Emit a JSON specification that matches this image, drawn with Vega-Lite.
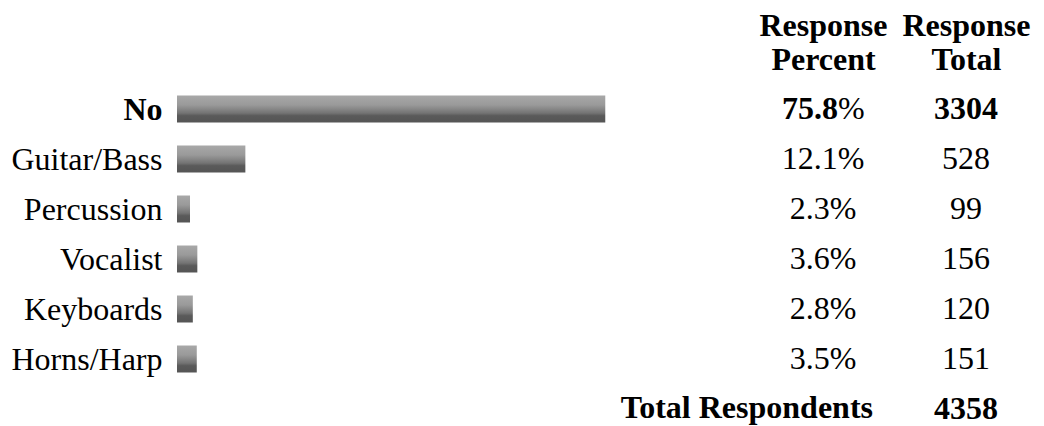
{
  "$schema": "https://vega.github.io/schema/vega-lite/v6.json",
  "autosize": "none",
  "width": 867,
  "height": 320,
  "padding": {"left": 177, "top": 99, "right": 0, "bottom": 7},
  "background": "white",
  "data": {
    "values": [
      {"category": "No", "pct": 75.8, "pctLabel": "75.8%", "total": 3304},
      {"category": "Guitar/Bass", "pct": 12.1, "pctLabel": "12.1%", "total": 528},
      {"category": "Percussion", "pct": 2.3, "pctLabel": "2.3%", "total": 99},
      {"category": "Vocalist", "pct": 3.6, "pctLabel": "3.6%", "total": 156},
      {"category": "Keyboards", "pct": 2.8, "pctLabel": "2.8%", "total": 120},
      {"category": "Horns/Harp", "pct": 3.5, "pctLabel": "3.5%", "total": 151},
      {"category": "Total Respondents", "total": 4358}
    ]
  },
  "encoding": {
    "y": {
      "field": "category",
      "type": "nominal",
      "sort": null,
      "scale": {
        "type": "point",
        "domain": ["No", "Guitar/Bass", "Percussion", "Vocalist", "Keyboards", "Horns/Harp", "Total Respondents"],
        "padding": 0.2
      },
      "axis": {
        "title": null,
        "ticks": false,
        "domain": false,
        "grid": false,
        "labelPadding": 15,
        "labelFont": "Liberation Serif",
        "labelFontSize": 32,
        "labelColor": "#000000",
        "labelLimit": 400,
        "labelFontWeight": {"condition": {"test": "datum.value === 'No'", "value": "bold"}, "value": "normal"},
        "labelExpr": "datum.value === 'Total Respondents' ? '' : datum.value"
      }
    }
  },
  "layer": [
    {
      "transform": [{"filter": "datum.category !== 'Total Respondents'"}],
      "mark": {
        "type": "bar",
        "size": 27,
        "color": {
          "gradient": "linear",
          "x1": 0, "y1": 0, "x2": 0, "y2": 1,
          "stops": [
            {"offset": 0, "color": "#a8a8a8"},
            {"offset": 0.35, "color": "#9a9a9a"},
            {"offset": 0.65, "color": "#747474"},
            {"offset": 0.75, "color": "#5a5a5a"},
            {"offset": 1, "color": "#555555"}
          ]
        }
      },
      "encoding": {
        "x": {
          "field": "pct",
          "type": "quantitative",
          "scale": {"domain": [0, 100], "range": [0, 565], "nice": false},
          "axis": null
        }
      }
    },
    {
      "encoding": {
        "x": {
          "datum": "Response Percent",
          "type": "nominal",
          "scale": {"type": "point", "domain": ["Response Percent", "Response Total"], "range": [646, 789], "padding": 0},
          "axis": {
            "orient": "top",
            "title": null,
            "ticks": false,
            "domain": false,
            "grid": false,
            "labelAngle": 0,
            "labelFont": "Liberation Serif",
            "labelFontSize": 32,
            "labelFontWeight": "bold",
            "labelColor": "#000000",
            "labelLineHeight": 34,
            "labelPadding": 57,
            "labelLimit": 300,
            "labelExpr": "split(datum.label, ' ')"
          }
        }
      },
      "layer": [
        {
          "transform": [{"filter": "datum.category !== 'No' && datum.category !== 'Total Respondents'"}],
          "mark": {"type": "text", "font": "Liberation Serif", "fontSize": 32, "color": "#000000", "align": "center", "baseline": "middle"},
          "encoding": {"text": {"field": "pctLabel", "type": "nominal"}}
        },
        {
          "transform": [{"filter": "datum.category === 'No'"}],
          "mark": {"type": "text", "font": "Liberation Serif", "fontSize": 32, "fontWeight": "bold", "color": "#000000", "align": "right", "baseline": "middle", "dx": 15},
          "encoding": {"text": {"field": "pct", "type": "quantitative", "format": ".1f"}}
        },
        {
          "transform": [{"filter": "datum.category === 'No'"}],
          "mark": {"type": "text", "font": "Liberation Serif", "fontSize": 32, "color": "#000000", "align": "left", "baseline": "middle", "dx": 15, "text": "%"}
        },
        {
          "transform": [{"filter": "datum.category === 'Total Respondents'"}],
          "mark": {"type": "text", "font": "Liberation Serif", "fontSize": 32, "fontWeight": "bold", "color": "#000000", "align": "right", "baseline": "middle", "dx": 50, "dy": -1.5},
          "encoding": {"text": {"field": "category", "type": "nominal"}}
        },
        {
          "transform": [{"filter": "datum.category !== 'No' && datum.category !== 'Total Respondents'"}],
          "mark": {"type": "text", "font": "Liberation Serif", "fontSize": 32, "color": "#000000", "align": "center", "baseline": "middle"},
          "encoding": {
            "x": {"datum": "Response Total", "type": "nominal"},
            "text": {"field": "total", "type": "quantitative", "format": "d"}
          }
        },
        {
          "transform": [{"filter": "datum.category === 'No' || datum.category === 'Total Respondents'"}],
          "mark": {"type": "text", "font": "Liberation Serif", "fontSize": 32, "fontWeight": "bold", "color": "#000000", "align": "center", "baseline": "middle", "dy": 0},
          "encoding": {
            "x": {"datum": "Response Total", "type": "nominal"},
            "text": {"field": "total", "type": "quantitative", "format": "d"}
          }
        }
      ]
    }
  ],
  "resolve": {"scale": {"x": "independent"}, "axis": {"x": "independent"}},
  "config": {"view": {"stroke": null}, "font": "Liberation Serif"}
}
